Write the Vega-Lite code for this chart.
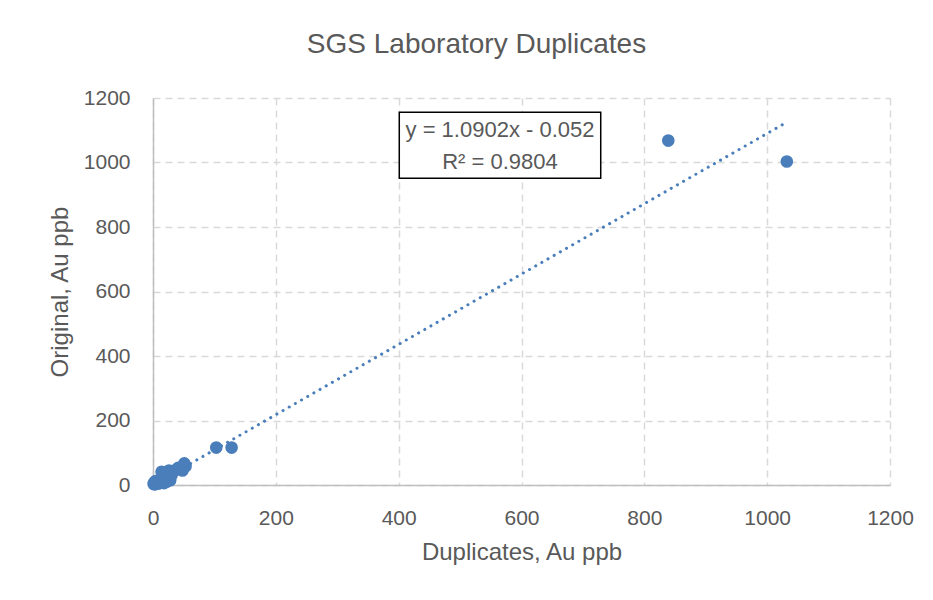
{
  "$schema": "https://vega.github.io/schema/vega-lite/v6.json",
  "autosize": "none",
  "width": 737,
  "height": 387,
  "padding": {"left": 153, "top": 98, "right": 43, "bottom": 115},
  "background": "white",
  "title": {
    "text": "SGS Laboratory Duplicates",
    "font": "Liberation Sans",
    "fontSize": 28,
    "fontWeight": "normal",
    "color": "#595959",
    "dx": -45,
    "offset": 28
  },
  "config": {
    "view": {"stroke": null},
    "axis": {
      "labelFont": "Liberation Sans",
      "labelFontSize": 21,
      "labelColor": "#595959",
      "titleFont": "Liberation Sans",
      "titleFontSize": 24,
      "titleFontWeight": "normal",
      "titleColor": "#595959",
      "domainColor": "#bfbfbf",
      "domainWidth": 1.5,
      "gridColor": "#d9d9d9",
      "gridWidth": 1.5,
      "gridDash": [7, 5],
      "ticks": false,
      "tickSize": 0,
      "format": "d"
    }
  },
  "datasets": {
    "points": [
      {"dup": 1, "orig": 3},
      {"dup": 2, "orig": 8},
      {"dup": 3, "orig": 2},
      {"dup": 4, "orig": 12},
      {"dup": 5, "orig": 5},
      {"dup": 6, "orig": 10},
      {"dup": 8, "orig": 4},
      {"dup": 10, "orig": 14},
      {"dup": 12, "orig": 9},
      {"dup": 14, "orig": 41},
      {"dup": 15, "orig": 16},
      {"dup": 18, "orig": 6},
      {"dup": 20, "orig": 22},
      {"dup": 22, "orig": 10},
      {"dup": 26, "orig": 45},
      {"dup": 28, "orig": 15},
      {"dup": 30, "orig": 30},
      {"dup": 33, "orig": 42},
      {"dup": 38, "orig": 48},
      {"dup": 41, "orig": 53},
      {"dup": 48, "orig": 45},
      {"dup": 51, "orig": 67},
      {"dup": 53, "orig": 58},
      {"dup": 103, "orig": 116},
      {"dup": 128, "orig": 116},
      {"dup": 839, "orig": 1068},
      {"dup": 1032, "orig": 1003}
    ],
    "trend": [
      {"dup": 1, "orig": 1.04},
      {"dup": 1032, "orig": 1125}
    ],
    "box": [
      {"x1": 401, "x2": 729, "y1": 1156, "y2": 951}
    ],
    "eq": [
      {"label": "y = 1.0902x - 0.052", "dup": 565, "orig": 1101},
      {"label": "R² = 0.9804", "dup": 565, "orig": 1003}
    ]
  },
  "layer": [
    {
      "data": {"name": "points"},
      "mark": {"type": "point", "filled": true, "shape": "circle", "size": 160, "color": "#4a7ebb", "opacity": 1},
      "encoding": {
        "x": {
          "field": "dup", "type": "quantitative",
          "scale": {"domain": [0, 1200], "nice": false, "zero": true},
          "axis": {"title": "Duplicates, Au ppb", "values": [0, 200, 400, 600, 800, 1000, 1200], "labelPadding": 22, "titlePadding": 12, "labelFlush": false}
        },
        "y": {
          "field": "orig", "type": "quantitative",
          "scale": {"domain": [0, 1200], "nice": false, "zero": true},
          "axis": {"title": "Original, Au ppb", "values": [0, 200, 400, 600, 800, 1000, 1200], "labelPadding": 23, "titlePadding": 11, "labelFlush": false}
        }
      }
    },
    {
      "data": {"name": "trend"},
      "mark": {"type": "line", "color": "#4a7ebb", "strokeWidth": 3, "strokeDash": [0.1, 7], "strokeCap": "round"},
      "encoding": {
        "x": {"field": "dup", "type": "quantitative"},
        "y": {"field": "orig", "type": "quantitative"}
      }
    },
    {
      "data": {"name": "box"},
      "mark": {"type": "rect", "fill": "white", "stroke": "black", "strokeWidth": 1.5},
      "encoding": {
        "x": {"field": "x1", "type": "quantitative"},
        "x2": {"field": "x2"},
        "y": {"field": "y1", "type": "quantitative"},
        "y2": {"field": "y2"}
      }
    },
    {
      "data": {"name": "eq"},
      "mark": {"type": "text", "font": "Liberation Sans", "fontSize": 22, "color": "#595959", "align": "center", "baseline": "middle"},
      "encoding": {
        "x": {"field": "dup", "type": "quantitative"},
        "y": {"field": "orig", "type": "quantitative"},
        "text": {"field": "label"}
      }
    }
  ]
}
